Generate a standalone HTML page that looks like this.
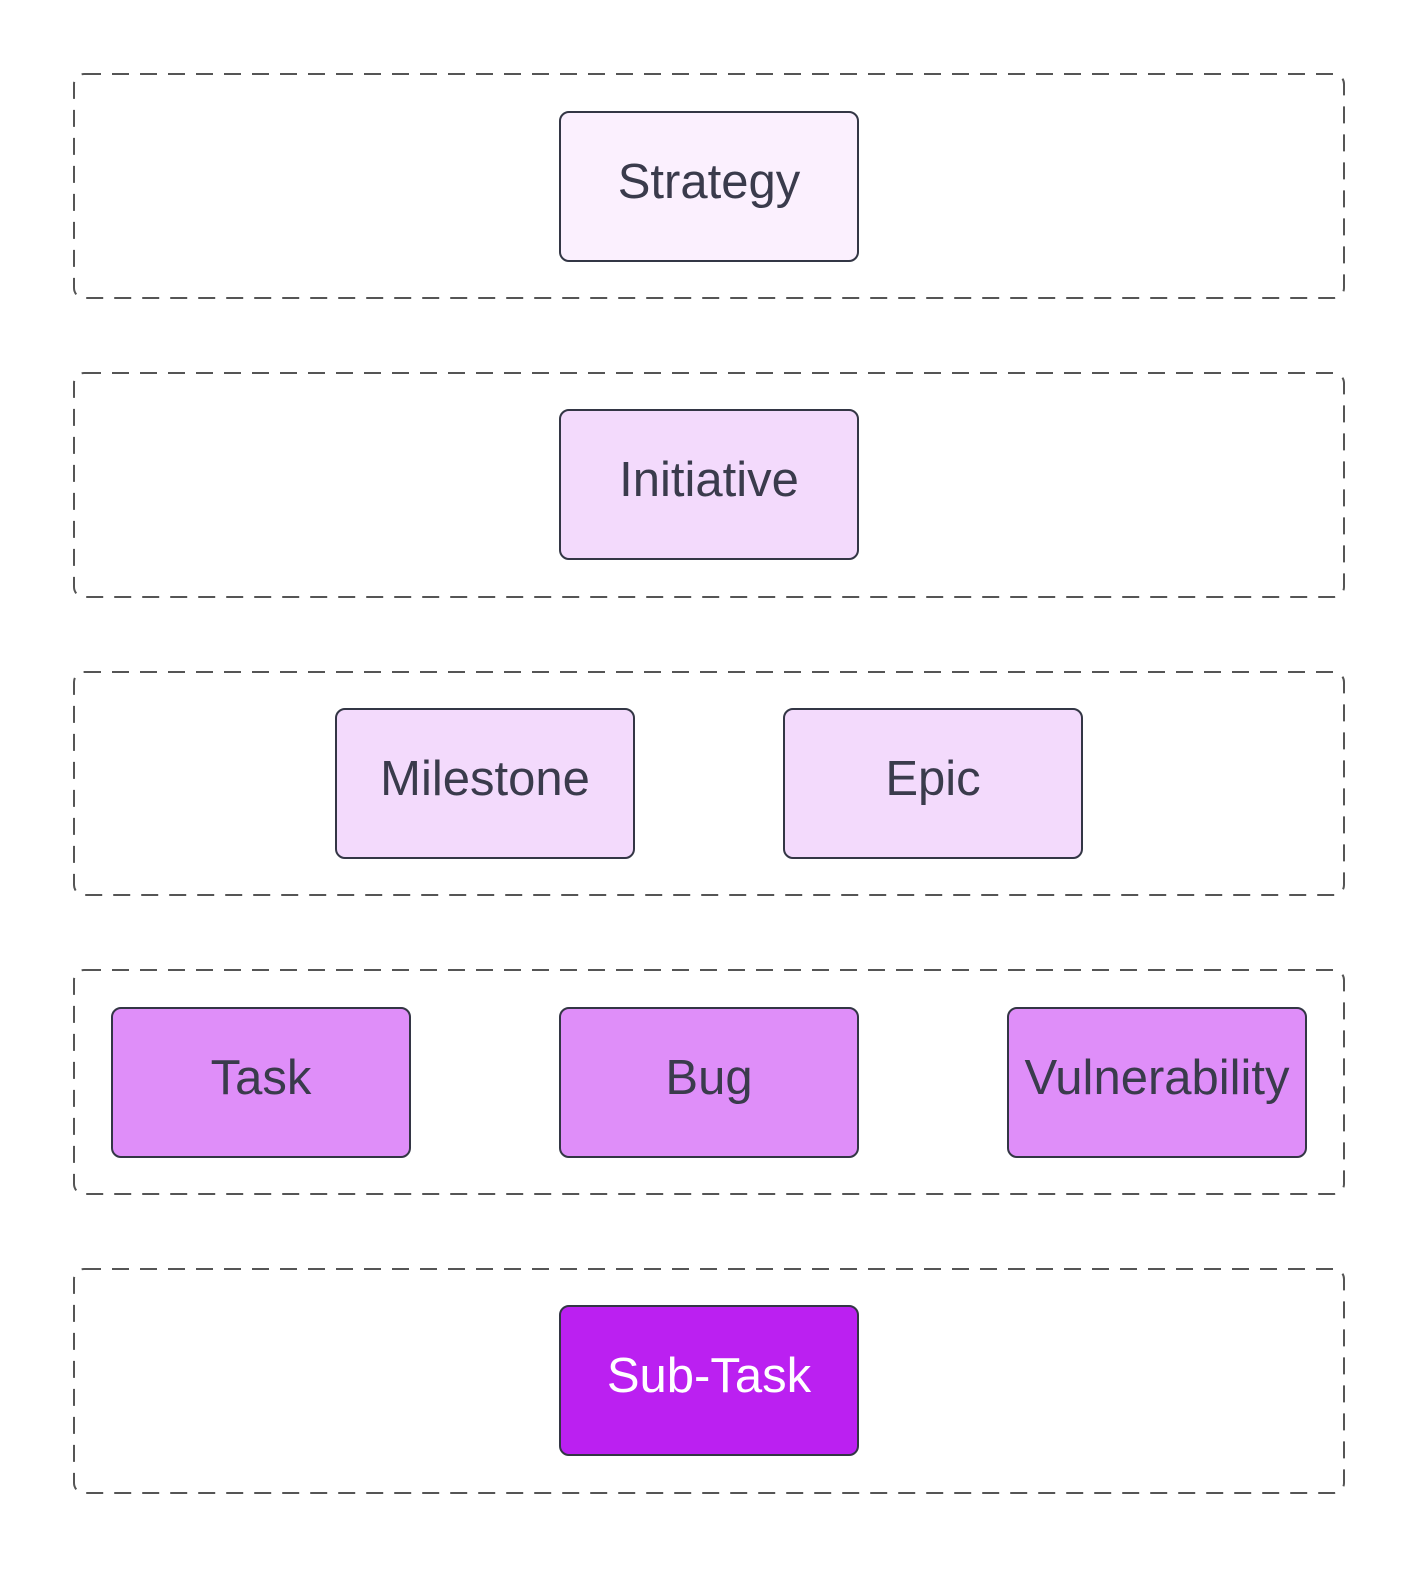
<!DOCTYPE html>
<html><head><meta charset="utf-8"><style>
html,body{margin:0;padding:0;background:#fff;}
svg{display:block;}
text{font-family:"Liberation Sans",Arial,sans-serif;font-size:49px;text-anchor:middle;dominant-baseline:central;}
</style></head><body>
<svg width="1425" height="1575" viewBox="0 0 1425 1575" xmlns="http://www.w3.org/2000/svg">
<g fill="none" stroke="#555" stroke-width="2" stroke-dasharray="17 11">
<rect x="74" y="74" width="1270" height="224" rx="10"/>
<rect x="74" y="373" width="1270" height="224" rx="10"/>
<rect x="74" y="672" width="1270" height="223" rx="10"/>
<rect x="74" y="970" width="1270" height="224" rx="10"/>
<rect x="74" y="1269" width="1270" height="224" rx="10"/>
</g>
<g stroke="#333645" stroke-width="2">
<rect x="560" y="112" width="298" height="149" rx="9" fill="#fbf0fe"/>
<rect x="560" y="410" width="298" height="149" rx="9" fill="#f3dafc"/>
<rect x="336" y="709" width="298" height="149" rx="9" fill="#f3dafc"/>
<rect x="784" y="709" width="298" height="149" rx="9" fill="#f3dafc"/>
<rect x="112" y="1008" width="298" height="149" rx="9" fill="#df8ef9"/>
<rect x="560" y="1008" width="298" height="149" rx="9" fill="#df8ef9"/>
<rect x="1008" y="1008" width="298" height="149" rx="9" fill="#df8ef9"/>
<rect x="560" y="1306" width="298" height="149" rx="9" fill="#bb20f1"/>
</g>
<g fill="#3a3b4c">
<text x="709" y="182">Strategy</text>
<text x="709" y="480">Initiative</text>
<text x="485" y="779">Milestone</text>
<text x="933" y="779">Epic</text>
<text x="261" y="1078">Task</text>
<text x="709" y="1078">Bug</text>
<text x="1157" y="1078">Vulnerability</text>
<text x="709" y="1376" fill="#ffffff">Sub-Task</text>
</g>
</svg>
</body></html>
